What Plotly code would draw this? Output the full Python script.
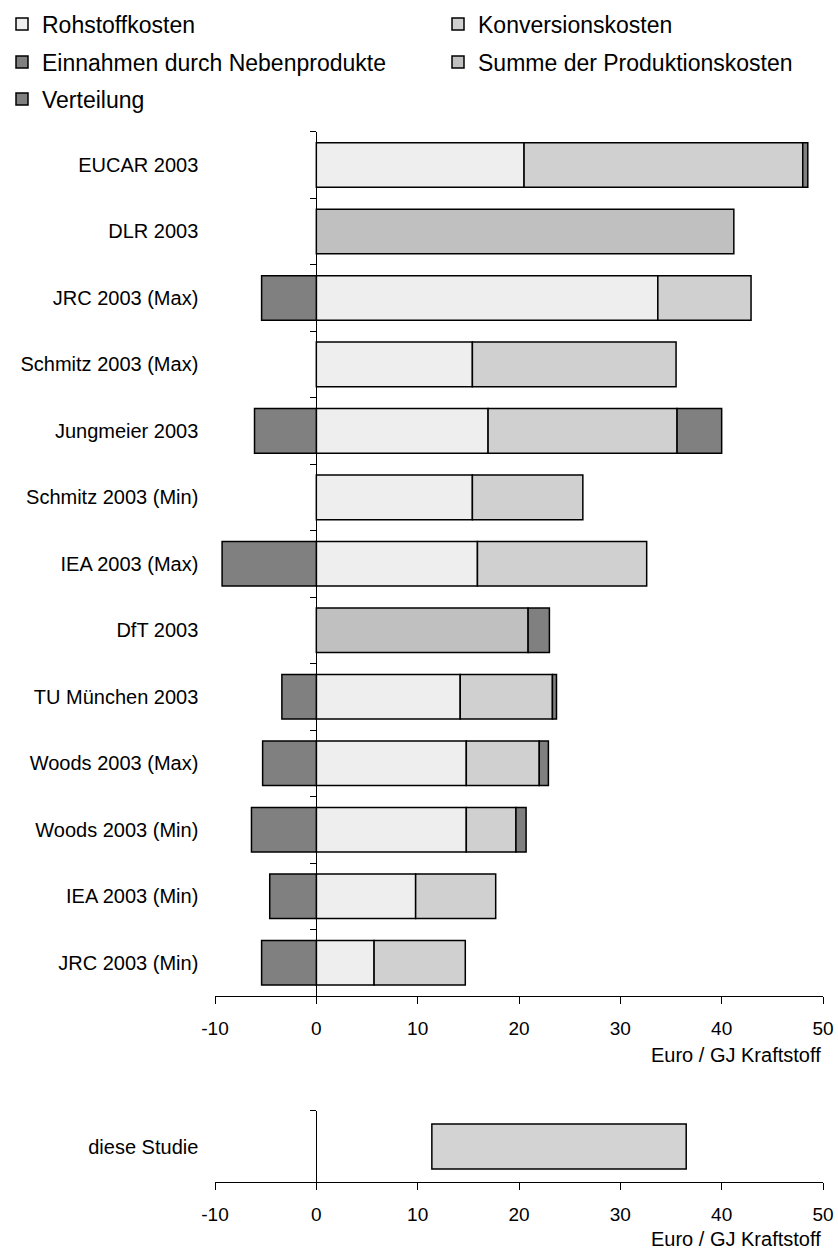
import plotly.graph_objects as go

categories = ["EUCAR 2003", "DLR 2003", "JRC 2003 (Max)", "Schmitz 2003 (Max)",
              "Jungmeier 2003", "Schmitz 2003 (Min)", "IEA 2003 (Max)", "DfT 2003",
              "TU München 2003", "Woods 2003 (Max)", "Woods 2003 (Min)",
              "IEA 2003 (Min)", "JRC 2003 (Min)"]

rohstoffkosten = [20.5, None, 33.7, 15.4, 16.95, 15.4, 15.9, None, 14.2, 14.8, 14.8, 9.8, 5.7]
konversionskosten = [27.5, None, 9.2, 20.1, 18.65, 10.9, 16.7, None, 9.1, 7.2, 4.9, 7.9, 9.0]
nebenprodukte = [None, None, -5.4, None, -6.1, None, -9.3, None, -3.4, -5.3, -6.4, -4.6, -5.4]
summe_produktion = [None, 41.2, None, None, None, None, None, 20.9, None, None, None, None, None]
verteilung = [0.5, None, None, None, 4.4, None, None, 2.1, 0.4, 0.9, 1.0, None, None]

studie_label = ["diese Studie"]
studie_min = [11.4]
studie_max = [36.5]

x_ticks = [-10, 0, 10, 20, 30, 40, 50]
x_tick_labels = ["-10", "0", "10", "20", "30", "40", "50"]
x_title = "Euro / GJ Kraftstoff"

series_names = ["Rohstoffkosten", "Konversionskosten", "Einnahmen durch Nebenprodukte",
                "Summe der Produktionskosten", "Verteilung"]
series_values = [rohstoffkosten, konversionskosten, nebenprodukte, summe_produktion, verteilung]
series_colors = ["#eeeeee", "#d0d0d0", "#808080", "#c0c0c0", "#808080"]

FONT = "Arial, Liberation Sans, Helvetica, sans-serif"
W, H = 838, 1255


def px_x(x):
    return x / W


def py(y):
    return 1 - y / H


# legend slots: (text-left x px, row centre y px)
legend_ids = ["legend", "legend2", "legend3", "legend4", "legend5"]
col_a, col_b = 42, 478
rows = [24, 62, 99]
legend_slots = [(col_a, rows[0]), (col_b, rows[0]), (col_a, rows[1]), (col_b, rows[1]), (col_a, rows[2])]

fig = go.Figure()
for name, vals, color, leg in zip(series_names, series_values, series_colors, legend_ids):
    fig.add_trace(go.Bar(
        y=categories, x=vals, name=name, orientation="h",
        marker=dict(color=color, line=dict(color="black", width=1.5)),
        legend=leg, xaxis="x", yaxis="y",
    ))

fig.add_trace(go.Bar(
    y=studie_label,
    x=[b - a for a, b in zip(studie_min, studie_max)],
    base=studie_min, orientation="h", width=0.63,
    marker=dict(color="#d3d3d3", line=dict(color="black", width=1.5)),
    showlegend=False, xaxis="x2", yaxis="y2",
))

x0, x1 = 215.0, 823.0
zero_px = x0 + (0 - x_ticks[0]) / (x_ticks[-1] - x_ticks[0]) * (x1 - x0)

common_x = dict(range=[x_ticks[0], x_ticks[-1]], tickvals=x_ticks, ticktext=x_tick_labels,
                showline=True, linecolor="black", linewidth=1, ticks="outside", ticklen=7,
                tickcolor="black", showgrid=False, zeroline=False,
                tickfont=dict(family=FONT, size=19, color="black"),
                ticklabelstandoff=8, domain=[px_x(x0), px_x(x1)], automargin=False)
common_y = dict(type="category", showline=True, linecolor="black", linewidth=1,
                ticks="outside", ticklen=6, tickcolor="black", tickson="boundaries",
                showgrid=False, zeroline=False, anchor="free", position=px_x(zero_px),
                tickfont=dict(family=FONT, size=20, color="black"),
                ticklabelstandoff=114, automargin=False)

legends = {}
for leg, (tx, ty) in zip(legend_ids, legend_slots):
    legends[leg] = dict(orientation="h", xanchor="left", yanchor="middle",
                        x=(tx - 40) / W, y=py(ty),
                        font=dict(family=FONT, size=23, color="black"),
                        bgcolor="rgba(0,0,0,0)")

fig.update_layout(
    width=W, height=H, plot_bgcolor="white", paper_bgcolor="white",
    margin=dict(l=0, r=0, t=0, b=0, autoexpand=False), barmode="relative", bargap=0.33,
    font=dict(family=FONT, color="black"),
    xaxis=dict(anchor="y", **common_x),
    yaxis=dict(domain=[py(996), py(131.7)], range=[len(categories) - 0.5, -0.5],
               categoryorder="array", categoryarray=categories, **common_y),
    xaxis2=dict(anchor="y2", **common_x),
    yaxis2=dict(domain=[py(1182.3), py(1110.7)], range=[0.5, -0.5], **common_y),
    annotations=[
        dict(text=x_title, xref="paper", yref="paper", x=px_x(x1), y=py(1055),
             xanchor="right", yanchor="middle", showarrow=False,
             font=dict(family=FONT, size=20, color="black")),
        dict(text=x_title, xref="paper", yref="paper", x=px_x(x1), y=py(1239),
             xanchor="right", yanchor="middle", showarrow=False,
             font=dict(family=FONT, size=20, color="black")),
    ],
    **legends,
)

fig.write_html("out.html", config={"displayModeBar": False},
               post_script="document.body.style.margin='0';document.body.style.overflow='hidden';")
